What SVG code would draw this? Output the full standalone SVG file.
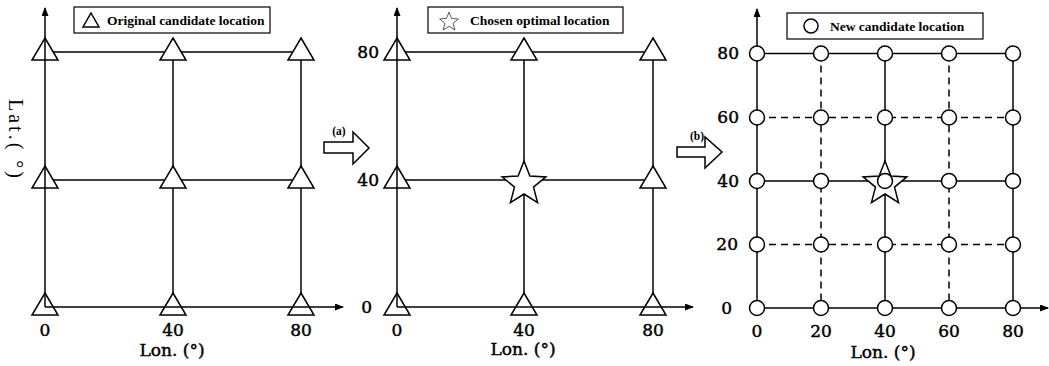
<svg xmlns="http://www.w3.org/2000/svg" xmlns:xlink="http://www.w3.org/1999/xlink" width="1049" height="366" viewBox="0 0 1049 366">
<style>
.ln{stroke:#000;stroke-width:1.5;fill:none}
.ds{stroke:#000;stroke-width:1.5;fill:none;stroke-dasharray:7 5}
.ax{stroke:#000;stroke-width:1.5;fill:none;marker-end:url(#ah)}
.sh{fill:#fff;stroke:#000;stroke-width:1.5}
.num{font-family:"DejaVu Serif","Liberation Serif",serif;font-size:17px;fill:#000;stroke:#000;stroke-width:0.45}
.lg{font-family:"Liberation Serif",serif;font-size:13.5px;font-weight:bold;fill:#000}
.ab{font-family:"Liberation Serif",serif;font-size:11.5px;font-weight:bold;fill:#000}
.box{fill:#fff;stroke:#000;stroke-width:1.2}
</style>
<defs>
<marker id="ah" markerWidth="9" markerHeight="7" refX="8" refY="3.5" orient="auto" markerUnits="userSpaceOnUse"><path d="M0,0 L9,3.5 L0,7 Z" fill="#000"/></marker>
<path id="tri" d="M0,-14 L13,8 L-13,8 Z"/>
<path id="star" d="M0,-23 L5.88,-8.09 L21.87,-7.11 L9.51,3.09 L13.52,18.61 L0,10 L-13.52,18.61 L-9.51,3.09 L-21.87,-7.11 L-5.88,-8.09 Z"/>
<circle id="cir" cx="0" cy="0" r="7.5"/>
</defs>
<rect width="1049" height="366" fill="#fff"/>

<!-- connectors / grid lines -->
<g id="connectors">
<!-- panel 1 -->
<line class="ln" x1="45" y1="52" x2="301" y2="52"/>
<line class="ln" x1="45" y1="180" x2="301" y2="180"/>
<line class="ln" x1="173" y1="52" x2="173" y2="307"/>
<line class="ln" x1="301" y1="52" x2="301" y2="307"/>
<!-- panel 2 -->
<line class="ln" x1="397" y1="52" x2="653" y2="52"/>
<line class="ln" x1="397" y1="180" x2="653" y2="180"/>
<line class="ln" x1="524" y1="52" x2="524" y2="307"/>
<line class="ln" x1="653" y1="52" x2="653" y2="307"/>
<!-- panel 3 -->
<line class="ln" x1="757" y1="53.5" x2="1013" y2="53.5"/>
<line class="ln" x1="757" y1="181" x2="1013" y2="181"/>
<line class="ln" x1="885" y1="53.5" x2="885" y2="308"/>
<line class="ln" x1="1013" y1="53.5" x2="1013" y2="308"/>
<line class="ds" x1="757" y1="117.5" x2="1013" y2="117.5"/>
<line class="ds" x1="757" y1="244.5" x2="1013" y2="244.5"/>
<line class="ds" x1="821" y1="53.5" x2="821" y2="308"/>
<line class="ds" x1="949" y1="53.5" x2="949" y2="308"/>
</g>

<!-- panel 1 nodes -->
<g id="p1-nodes">
<g id="p1-t-0-80"><use href="#tri" class="sh" x="45" y="52"/></g>
<g id="p1-t-40-80"><use href="#tri" class="sh" x="173" y="52"/></g>
<g id="p1-t-80-80"><use href="#tri" class="sh" x="301" y="52"/></g>
<g id="p1-t-0-40"><use href="#tri" class="sh" x="45" y="180"/></g>
<g id="p1-t-40-40"><use href="#tri" class="sh" x="173" y="180"/></g>
<g id="p1-t-80-40"><use href="#tri" class="sh" x="301" y="180"/></g>
<g id="p1-t-0-0"><use href="#tri" class="sh" x="45" y="307"/></g>
<g id="p1-t-40-0"><use href="#tri" class="sh" x="173" y="307"/></g>
<g id="p1-t-80-0"><use href="#tri" class="sh" x="301" y="307"/></g>
</g>
<g id="p1-axes">
<line class="ax" x1="45" y1="307" x2="45" y2="8"/>
<line class="ax" x1="45" y1="307" x2="343" y2="307"/>
</g>

<!-- panel 2 nodes -->
<g id="p2-nodes">
<g id="p2-t-0-80"><use href="#tri" class="sh" x="397" y="52"/></g>
<g id="p2-t-40-80"><use href="#tri" class="sh" x="524" y="52"/></g>
<g id="p2-t-80-80"><use href="#tri" class="sh" x="653" y="52"/></g>
<g id="p2-t-0-40"><use href="#tri" class="sh" x="397" y="180"/></g>
<g id="p2-t-80-40"><use href="#tri" class="sh" x="653" y="180"/></g>
<g id="p2-t-0-0"><use href="#tri" class="sh" x="397" y="307"/></g>
<g id="p2-t-40-0"><use href="#tri" class="sh" x="524" y="307"/></g>
<g id="p2-t-80-0"><use href="#tri" class="sh" x="653" y="307"/></g>
<g id="p2-star"><use href="#star" class="sh" x="524" y="184"/></g>
</g>
<g id="p2-axes">
<line class="ax" x1="397" y1="307" x2="397" y2="8"/>
<line class="ax" x1="397" y1="307" x2="693" y2="307"/>
</g>

<!-- panel 3 -->
<g id="p3-axes">
<line class="ax" x1="757" y1="308" x2="757" y2="9"/>
<line class="ax" x1="757" y1="308" x2="1048" y2="308"/>
</g>
<g id="p3-nodes">
<g id="p3-star"><use href="#star" class="sh" x="885" y="184"/></g>
<g id="p3-c-0-80"><use href="#cir" class="sh" x="757" y="53.5"/></g>
<g id="p3-c-20-80"><use href="#cir" class="sh" x="821" y="53.5"/></g>
<g id="p3-c-40-80"><use href="#cir" class="sh" x="885" y="53.5"/></g>
<g id="p3-c-60-80"><use href="#cir" class="sh" x="949" y="53.5"/></g>
<g id="p3-c-80-80"><use href="#cir" class="sh" x="1013" y="53.5"/></g>
<g id="p3-c-0-60"><use href="#cir" class="sh" x="757" y="117.5"/></g>
<g id="p3-c-20-60"><use href="#cir" class="sh" x="821" y="117.5"/></g>
<g id="p3-c-40-60"><use href="#cir" class="sh" x="885" y="117.5"/></g>
<g id="p3-c-60-60"><use href="#cir" class="sh" x="949" y="117.5"/></g>
<g id="p3-c-80-60"><use href="#cir" class="sh" x="1013" y="117.5"/></g>
<g id="p3-c-0-40"><use href="#cir" class="sh" x="757" y="181"/></g>
<g id="p3-c-20-40"><use href="#cir" class="sh" x="821" y="181"/></g>
<g id="p3-c-40-40"><use href="#cir" class="sh" x="885" y="181"/></g>
<g id="p3-c-60-40"><use href="#cir" class="sh" x="949" y="181"/></g>
<g id="p3-c-80-40"><use href="#cir" class="sh" x="1013" y="181"/></g>
<g id="p3-c-0-20"><use href="#cir" class="sh" x="757" y="244.5"/></g>
<g id="p3-c-20-20"><use href="#cir" class="sh" x="821" y="244.5"/></g>
<g id="p3-c-40-20"><use href="#cir" class="sh" x="885" y="244.5"/></g>
<g id="p3-c-60-20"><use href="#cir" class="sh" x="949" y="244.5"/></g>
<g id="p3-c-80-20"><use href="#cir" class="sh" x="1013" y="244.5"/></g>
<g id="p3-c-0-0"><use href="#cir" class="sh" x="757" y="308"/></g>
<g id="p3-c-20-0"><use href="#cir" class="sh" x="821" y="308"/></g>
<g id="p3-c-40-0"><use href="#cir" class="sh" x="885" y="308"/></g>
<g id="p3-c-60-0"><use href="#cir" class="sh" x="949" y="308"/></g>
<g id="p3-c-80-0"><use href="#cir" class="sh" x="1013" y="308"/></g>
</g>

<!-- legends -->
<g id="legend1">
<rect class="box" x="74" y="7" width="196" height="26"/>
<path class="sh" d="M91,13 L99,27 L83,27 Z"/>
<text class="lg" x="107" y="25">Original candidate location</text>
</g>
<g id="legend2">
<rect class="box" x="428" y="7" width="195" height="26"/>
<path class="sh" transform="translate(449,22) scale(0.43)" stroke-width="3.3" d="M0,-23 L5.88,-8.09 L21.87,-7.11 L9.51,3.09 L13.52,18.61 L0,10 L-13.52,18.61 L-9.51,3.09 L-21.87,-7.11 L-5.88,-8.09 Z"/>
<text class="lg" x="470" y="25">Chosen optimal location</text>
</g>
<g id="legend3">
<rect class="box" x="787" y="13" width="196" height="26"/>
<circle class="sh" cx="811" cy="26" r="7"/>
<text class="lg" x="830" y="31">New candidate location</text>
</g>

<!-- step arrows -->
<g id="step-a">
<polygon class="sh" points="324,142 353,142 353,132 369,148 353,164 353,153 324,153"/>
<text class="ab" x="339" y="135" text-anchor="middle">(a)</text>
</g>
<g id="step-b">
<polygon class="sh" points="677,147 705,147 705,137 722,152 705,168 705,157 677,157"/>
<text class="ab" x="697" y="140" text-anchor="middle">(b)</text>
</g>

<!-- axis labels -->
<g id="labels1">
<text style="font-family:'Liberation Serif',serif;font-size:20px;letter-spacing:3px" transform="translate(9,140) rotate(90)" text-anchor="middle">Lat.( °)</text>
<text class="num" x="45" y="336" text-anchor="middle">0</text>
<text class="num" x="173" y="336" text-anchor="middle">40</text>
<text class="num" x="301" y="336" text-anchor="middle">80</text>
<text class="num" x="172" y="356" text-anchor="middle">Lon. (°)</text>
</g>
<g id="labels2">
<text class="num" x="379" y="58" text-anchor="end">80</text>
<text class="num" x="379" y="186" text-anchor="end">40</text>
<text class="num" x="372" y="313" text-anchor="end">0</text>
<text class="num" x="397" y="336" text-anchor="middle">0</text>
<text class="num" x="524" y="336" text-anchor="middle">40</text>
<text class="num" x="653" y="336" text-anchor="middle">80</text>
<text class="num" x="523" y="355" text-anchor="middle">Lon. (°)</text>
</g>
<g id="labels3">
<text class="num" x="739" y="59" text-anchor="end">80</text>
<text class="num" x="739" y="123" text-anchor="end">60</text>
<text class="num" x="739" y="187" text-anchor="end">40</text>
<text class="num" x="738" y="250" text-anchor="end">20</text>
<text class="num" x="732" y="314" text-anchor="end">0</text>
<text class="num" x="757" y="337" text-anchor="middle">0</text>
<text class="num" x="821" y="337" text-anchor="middle">20</text>
<text class="num" x="885" y="337" text-anchor="middle">40</text>
<text class="num" x="949" y="337" text-anchor="middle">60</text>
<text class="num" x="1013" y="337" text-anchor="middle">80</text>
<text class="num" x="883" y="358" text-anchor="middle">Lon. (°)</text>
</g>
</svg>
